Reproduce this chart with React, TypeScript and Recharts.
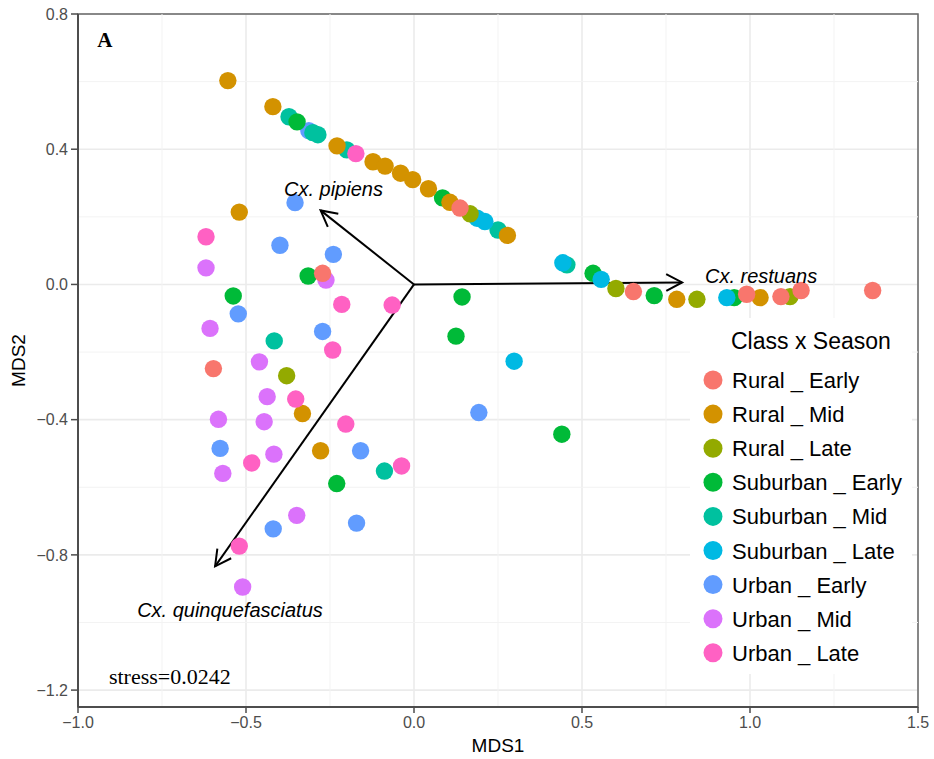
import React from "react";
import {
  ScatterChart,
  Scatter,
  XAxis,
  YAxis,
  CartesianGrid,
  ReferenceLine,
  ReferenceArea,
  ReferenceDot,
  Legend,
} from "recharts";

const SANS = "'Liberation Sans', Arial, Helvetica, sans-serif";
const SERIF = "'Liberation Serif', 'Times New Roman', serif";

// NMDS site scores, one array per class x season
const ruralEarly = [
  { x: -0.272, y: 0.033 }, { x: -0.597, y: -0.249 }, { x: 0.137, y: 0.226 },
  { x: 0.653, y: -0.021 }, { x: 0.99, y: -0.029 }, { x: 1.092, y: -0.036 },
  { x: 1.152, y: -0.018 }, { x: 1.365, y: -0.018 },
];
const ruralMid = [
  { x: -0.554, y: 0.603 }, { x: -0.42, y: 0.526 }, { x: -0.229, y: 0.41 },
  { x: -0.122, y: 0.363 }, { x: -0.086, y: 0.35 }, { x: -0.04, y: 0.329 },
  { x: -0.004, y: 0.31 }, { x: 0.043, y: 0.283 }, { x: 0.107, y: 0.243 },
  { x: 0.278, y: 0.145 }, { x: -0.52, y: 0.214 }, { x: -0.332, y: -0.382 },
  { x: -0.278, y: -0.492 }, { x: 0.782, y: -0.044 }, { x: 1.03, y: -0.039 },
];
const ruralLate = [
  { x: -0.379, y: -0.27 }, { x: 0.167, y: 0.209 }, { x: 0.601, y: -0.012 },
  { x: 0.842, y: -0.044 }, { x: 1.119, y: -0.036 },
];
const suburbanEarly = [
  { x: -0.348, y: 0.481 }, { x: 0.085, y: 0.256 }, { x: 0.143, y: -0.037 },
  { x: 0.125, y: -0.153 }, { x: 0.44, y: -0.443 }, { x: 0.533, y: 0.033 },
  { x: 0.715, y: -0.033 }, { x: 0.953, y: -0.039 }, { x: -0.315, y: 0.025 },
  { x: -0.538, y: -0.034 }, { x: -0.23, y: -0.589 },
];
const suburbanMid = [
  { x: -0.372, y: 0.496 }, { x: -0.301, y: 0.449 }, { x: -0.286, y: 0.443 },
  { x: -0.2, y: 0.398 }, { x: 0.25, y: 0.161 }, { x: 0.455, y: 0.058 },
  { x: -0.416, y: -0.167 }, { x: -0.088, y: -0.552 },
];
const suburbanLate = [
  { x: 0.188, y: 0.196 }, { x: 0.211, y: 0.186 }, { x: 0.443, y: 0.064 },
  { x: 0.557, y: 0.015 }, { x: 0.931, y: -0.039 }, { x: 0.298, y: -0.227 },
];
const urbanEarly = [
  { x: -0.313, y: 0.455 }, { x: -0.354, y: 0.242 }, { x: -0.399, y: 0.116 },
  { x: -0.24, y: 0.089 }, { x: -0.523, y: -0.087 }, { x: -0.272, y: -0.139 },
  { x: -0.577, y: -0.485 }, { x: -0.159, y: -0.492 }, { x: -0.419, y: -0.723 },
  { x: -0.171, y: -0.706 }, { x: 0.193, y: -0.379 },
];
const urbanMid = [
  { x: -0.619, y: 0.049 }, { x: -0.262, y: 0.013 }, { x: -0.607, y: -0.13 },
  { x: -0.46, y: -0.229 }, { x: -0.437, y: -0.332 }, { x: -0.582, y: -0.399 },
  { x: -0.446, y: -0.406 }, { x: -0.417, y: -0.502 }, { x: -0.569, y: -0.559 },
  { x: -0.349, y: -0.683 }, { x: -0.51, y: -0.895 },
];
const urbanLate = [
  { x: -0.173, y: 0.387 }, { x: -0.619, y: 0.141 }, { x: -0.215, y: -0.059 },
  { x: -0.065, y: -0.061 }, { x: -0.242, y: -0.194 }, { x: -0.352, y: -0.339 },
  { x: -0.203, y: -0.413 }, { x: -0.483, y: -0.528 }, { x: -0.037, y: -0.537 },
  { x: -0.52, y: -0.774 },
];

const groupNames = [
  "Rural _ Early", "Rural _ Mid", "Rural _ Late",
  "Suburban _ Early", "Suburban _ Mid", "Suburban _ Late",
  "Urban _ Early", "Urban _ Mid", "Urban _ Late",
];
const groupColors = [
  "#F8766D", "#D39200", "#93AA00", "#00BA38", "#00C19F",
  "#00B9E3", "#619CFF", "#DB72FB", "#FF61C3",
];
const groupData = [
  ruralEarly, ruralMid, ruralLate, suburbanEarly, suburbanMid,
  suburbanLate, urbanEarly, urbanMid, urbanLate,
];
// paint order so that overlapping dots stack sensibly
const drawOrder = [6, 4, 7, 3, 5, 2, 1, 0, 8];

// species vectors (envfit) and their labels
const species = ["Cx. pipiens", "Cx. restuans", "Cx. quinquefasciatus"];
const vectorEnds = [
  { x: -0.278, y: 0.219 },
  { x: 0.798, y: 0.006 },
  { x: -0.592, y: -0.834 },
];
const labelAnchors = [
  { x: -0.387, y: 0.262 },
  { x: 0.866, y: 0.003 },
  { x: -0.824, y: -0.985 },
];

const xTicks = [-1, -0.5, 0, 0.5, 1, 1.5];
const yTicks = [-1.2, -0.8, -0.4, 0, 0.4, 0.8];
const xMinor = [-0.75, -0.25, 0.25, 0.75, 1.25];
const yMinor = [-1.0, -0.6, -0.2, 0.2, 0.6];

const fmt = (v: number) => v.toFixed(1).replace("-", "\u2212");

const Arrow = (props: any) => {
  const { x1, y1, x2, y2 } = props;
  const a = Math.atan2(y2 - y1, x2 - x1);
  const len = 18;
  const s = (28 * Math.PI) / 180;
  const p1 = `${x2 - len * Math.cos(a - s)},${y2 - len * Math.sin(a - s)}`;
  const p2 = `${x2 - len * Math.cos(a + s)},${y2 - len * Math.sin(a + s)}`;
  return (
    <g>
      <line x1={x1} y1={y1} x2={x2} y2={y2} stroke="#000" strokeWidth={2} />
      <polyline points={`${p1} ${x2},${y2} ${p2}`} fill="none" stroke="#000" strokeWidth={2} />
    </g>
  );
};

const LegendBox = () => (
  <svg width={222} height={356} style={{ display: "block", background: "#fff" }}>
    <text x={41} y={31} fontFamily={SANS} fontSize={23} fill="#000">
      Class x Season
    </text>
    {groupNames.map((name, i) => {
      const cy = 62 + i * 34.1;
      return (
        <g key={name}>
          <circle cx={23} cy={cy} r={9.5} fill={groupColors[i]} />
          <text x={42} y={cy + 8} fontFamily={SANS} fontSize={22} fill="#000">
            {name}
          </text>
        </g>
      );
    })}
  </svg>
);

export default function App() {
  return (
    <div style={{ position: "absolute", left: 0, top: 0, background: "#fff" }}>
      <ScatterChart width={934} height={759} margin={{ top: 14, right: 16, bottom: 0, left: 0 }}>
        <CartesianGrid stroke="#ebebeb" strokeWidth={1.6} />
        {xMinor.map((v) => (
          <ReferenceLine key={`mx${v}`} x={v} stroke="#f3f3f3" strokeWidth={1} />
        ))}
        {yMinor.map((v) => (
          <ReferenceLine key={`my${v}`} y={v} stroke="#f3f3f3" strokeWidth={1} />
        ))}
        <ReferenceArea
          x1={-1}
          x2={1.5}
          y1={-1.25}
          y2={0.8}
          fill="none"
          fillOpacity={0}
          stroke="#666"
          strokeWidth={1.5}
        />
        <XAxis
          type="number"
          dataKey="x"
          domain={[-1, 1.5]}
          ticks={xTicks}
          allowDataOverflow
          tickFormatter={fmt}
          height={52}
          tickSize={6}
          tickMargin={4}
          axisLine={{ stroke: "#4d4d4d", strokeWidth: 2 }}
          tickLine={{ stroke: "#4d4d4d", strokeWidth: 1.5 }}
          tick={{ fill: "#4d4d4d", fontSize: 16, fontFamily: SANS }}
          label={{
            value: "MDS1",
            position: "insideBottom",
            offset: 7,
            style: { fill: "#000", fontSize: 19, fontFamily: SANS },
          }}
        />
        <YAxis
          type="number"
          dataKey="y"
          domain={[-1.25, 0.8]}
          ticks={yTicks}
          allowDataOverflow
          tickFormatter={fmt}
          width={78}
          tickSize={7}
          tickMargin={3}
          axisLine={{ stroke: "#4d4d4d", strokeWidth: 2 }}
          tickLine={{ stroke: "#4d4d4d", strokeWidth: 1.5 }}
          tick={{ fill: "#4d4d4d", fontSize: 16, fontFamily: SANS }}
          label={{
            value: "MDS2",
            angle: -90,
            position: "insideLeft",
            offset: 18,
            style: { fill: "#000", fontSize: 19, fontFamily: SANS, textAnchor: "middle" },
          }}
        />
        {drawOrder.map((i) => (
          <Scatter
            key={groupNames[i]}
            name={groupNames[i]}
            data={groupData[i]}
            fill={groupColors[i]}
            isAnimationActive={false}
            shape={(p: any) => <circle cx={p.cx} cy={p.cy} r={8.7} fill={groupColors[i]} />}
          />
        ))}
        {vectorEnds.map((end, i) => (
          <ReferenceLine
            key={`vec${i}`}
            segment={[{ x: 0, y: 0 }, end]}
            stroke="#000"
            shape={Arrow}
          />
        ))}
        {labelAnchors.map((pos, i) => (
          <ReferenceDot
            key={`lab${i}`}
            x={pos.x}
            y={pos.y}
            r={0}
            shape={(p: any) => (
              <text x={p.cx} y={p.cy} fontFamily={SANS} fontStyle="italic" fontSize={20} fill="#000">
                {species[i]}
              </text>
            )}
          />
        ))}
        <ReferenceDot
          x={-0.943}
          y={0.703}
          r={0}
          shape={(p: any) => (
            <text x={p.cx} y={p.cy} fontFamily={SERIF} fontWeight="bold" fontSize={21} fill="#000">
              A
            </text>
          )}
        />
        <ReferenceDot
          x={-0.908}
          y={-1.183}
          r={0}
          shape={(p: any) => (
            <text x={p.cx} y={p.cy} fontFamily={SERIF} fontSize={22} fill="#000">
              stress=0.0242
            </text>
          )}
        />
        <Legend
          layout="vertical"
          align="center"
          verticalAlign="middle"
          wrapperStyle={{ position: "absolute", left: 690, top: 318, width: 222, height: 356 }}
          content={() => <LegendBox />}
        />
      </ScatterChart>
    </div>
  );
}
